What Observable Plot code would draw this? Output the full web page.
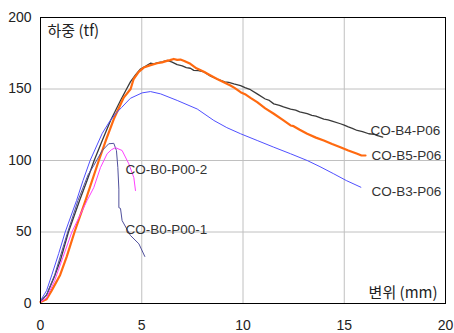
<!DOCTYPE html>
<html>
<head>
<meta charset="utf-8">
<script src="https://cdn.jsdelivr.net/npm/d3@7"></script>
<script src="https://cdn.jsdelivr.net/npm/@observablehq/plot@0.6"></script>
<style>
  html, body { margin: 0; padding: 0; background: #fff; }
  #chart svg { display: block; }
</style>
</head>
<body>
<div id="chart"></div>
<script>
// Tick values
const xTicks = [0, 5, 10, 15, 20];
const yTicks = [0, 50, 100, 150, 200];

// Series names
const seriesNames = ["CO-B4-P06", "CO-B5-P06", "CO-B3-P06", "CO-B0-P00-1", "CO-B0-P00-2"];

// Displacement (mm), load (tf) pairs
const b4 = [[0,1.5],[0.3,6],[0.72,20],[1.0,31],[1.38,50],[1.93,72],[2.3,86],[2.65,100],[3.05,114],[3.46,128],[3.95,142],[4.25,150],[4.44,155],[4.7,160],[4.94,164],[5.2,166],[5.43,168],[5.6,167.5],[5.8,168.5],[6.0,169],[6.26,170],[6.5,168.8],[6.75,167],[7.0,166.2],[7.2,165],[7.4,164.5],[7.57,163],[7.8,162.8],[8.07,162],[8.4,159],[8.72,157],[9.1,155],[9.3,154.6],[9.55,153.6],[9.88,152.4],[10.1,151],[10.37,149.5],[10.7,146.6],[11.1,143],[11.3,142],[11.52,139.6],[11.8,138.6],[12.0,137.5],[12.35,136],[12.6,135.2],[12.8,134],[13.17,132.7],[13.4,131.6],[13.6,131],[13.99,129],[14.2,128.4],[14.4,127.5],[14.81,125.7],[15.0,124.8],[15.2,123.5],[15.4,122.5],[15.64,121],[15.9,120.2],[16.21,118.7],[16.5,118.3],[16.6,117.5],[16.9,116.3]];
const b5 = [[0,1],[0.3,3],[0.55,9],[0.97,20],[1.3,33],[1.68,50],[2.22,72],[2.55,86],[2.88,100],[3.25,115],[3.62,129],[4.11,144],[4.45,150],[4.6,157],[4.85,162],[5.1,165],[5.4,166.5],[5.76,168],[6.0,168.6],[6.2,169.5],[6.4,170.2],[6.58,171],[6.75,170.4],[6.91,170.6],[7.1,169.6],[7.4,167.6],[7.7,164.5],[8.07,162],[8.4,159.5],[8.72,157],[9.0,155],[9.38,152.4],[9.6,150.6],[9.88,147.8],[10.1,146.4],[10.37,143.8],[10.7,140.8],[11.1,136.5],[11.52,132.7],[12.0,128],[12.35,124.5],[12.5,124],[12.8,121.5],[13.17,118.7],[13.6,116],[13.99,114],[14.4,111.5],[14.81,109.3],[15.2,107],[15.64,104.7],[15.85,103.5],[16.05,103.5]];
const b3 = [[0,2],[0.3,9],[0.56,20],[0.9,35],[1.22,50],[1.78,72],[2.1,86],[2.45,100],[3.05,119],[3.4,127],[3.7,132.6],[4.0,137],[4.44,143.5],[5.02,147.3],[5.43,148.2],[5.93,146.6],[6.75,142],[7.74,136],[8.56,128],[9.2,123],[9.88,118.7],[10.7,114],[11.52,109.3],[12.35,104.7],[13.17,100],[13.8,95.7],[14.48,90.7],[15.1,86],[15.82,81.3]];
const b0p1 = [[0,1.5],[0.3,6],[0.7,20],[1.3,48],[1.85,72],[2.35,90],[2.63,96.5],[3.05,107],[3.37,111.7],[3.62,112],[3.75,107],[3.82,95],[3.87,80],[3.87,67],[3.95,66.5],[4.03,58],[4.44,47.6],[4.86,41.7],[5.15,32.9]];
const b0p2 = [[0,1],[0.3,4],[0.7,16],[1.1,32],[1.55,50],[2.3,72],[2.63,81],[2.96,95],[3.29,104.7],[3.5,107.5],[3.7,109],[4.03,107],[4.36,97.7],[4.61,88],[4.69,79]];

const seriesData = [b4, b5, b3, b0p1, b0p2];
const seriesColors = ["#3a3a3a", "#ff6a10", "#5050ff", "#50509c", "#ff40ff"];
const seriesWidths = [1.3, 2.2, 1, 1, 1];

// Label anchors (data units)
const labelX = [16.3, 16.35, 16.35, 4.2, 4.2];
const labelY = [121, 103.5, 78.3, 51.7, 93.7];

const rows = seriesNames.flatMap((name, i) =>
  seriesData[i].map(([x, y]) => ({series: name, x, y})));
const labels = seriesNames.map((name, i) => ({series: name, x: labelX[i], y: labelY[i]}));

const font = "'Liberation Sans', Arial, sans-serif";

const chart = Plot.plot({
  width: 454,
  height: 333,
  marginLeft: 40,
  marginRight: 9,
  marginTop: 17,
  marginBottom: 30,
  style: {fontFamily: font, fontSize: "14px", color: "#222", background: "#fff"},
  x: {domain: [0, 20], ticks: xTicks, tickSize: 0, tickPadding: 17, label: null},
  y: {domain: [0, 200], ticks: yTicks, tickSize: 0, tickPadding: 9, label: null},
  marks: [
    Plot.gridX(xTicks.slice(1, -1), {stroke: "#c0c0c0", strokeOpacity: 1}),
    Plot.gridY(yTicks.slice(1, -1), {stroke: "#c0c0c0", strokeOpacity: 1}),
    ...seriesNames.map((name, i) =>
      Plot.line(rows.filter(d => d.series === name), {
        x: "x", y: "y", stroke: seriesColors[i], strokeWidth: seriesWidths[i]
      })),
    Plot.text(labels, {x: "x", y: "y", text: "series", textAnchor: "start",
      fill: "#333", fontSize: 13.5, fontFamily: font}),
    Plot.text(["하중 (tf)"], {frameAnchor: "top-left", dx: 7, dy: 8, textAnchor: "start",
      fontSize: 15, fill: "#222", fontFamily: "'Noto Sans CJK KR', sans-serif"}),
    Plot.text(["변위 (mm)"], {frameAnchor: "bottom-right", dx: -8, dy: -6, textAnchor: "end",
      fontSize: 15, fill: "#222", fontFamily: "'Noto Sans CJK KR', sans-serif"}),
    Plot.frame({stroke: "#000", strokeWidth: 1})
  ]
});
document.getElementById("chart").appendChild(chart);
</script>
</body>
</html>
